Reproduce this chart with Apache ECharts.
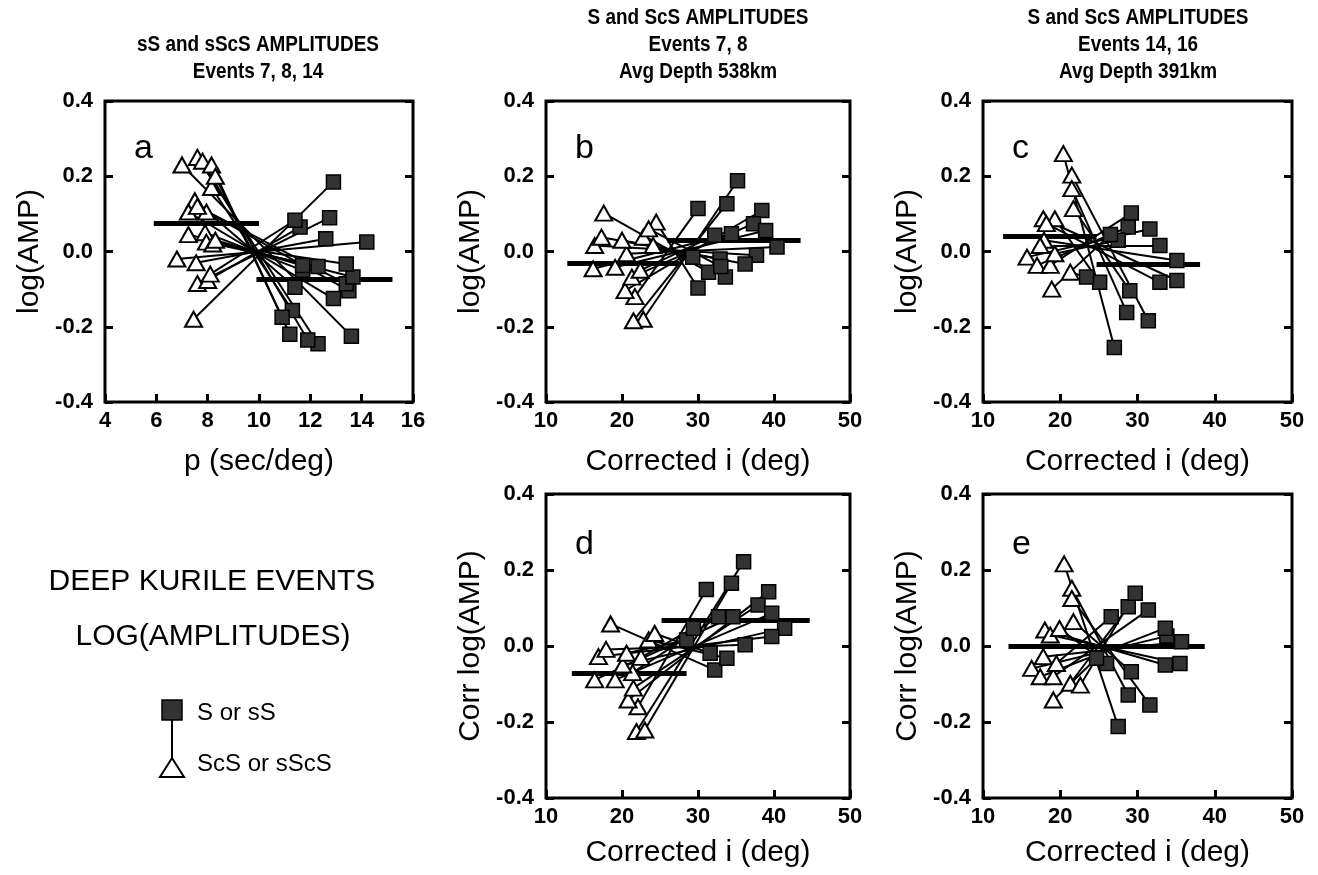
<!DOCTYPE html>
<html>
<head>
<meta charset="utf-8">
<script src="https://cdn.jsdelivr.net/npm/echarts@6/dist/echarts.min.js"></script>
<style>
	html,body{margin:0;padding:0;background:#fff;}
	#main{width:1318px;height:875px;}
</style>
</head>
<body>
<div id="main"></div>
<script type="text/javascript">
	//每组: ScS三角 [x,y] 与 S方块 [x,y] 按序号成对
	var aTri = [[7.0,0.23],[7.6,0.25],[7.8,0.24],[8.15,0.23],[8.15,0.17],[8.3,0.2],[7.5,0.135],[7.25,0.105],[7.95,0.105],[7.6,0.12],[7.25,0.045],[7.9,0.05],[7.95,0.025],[8.2,0.02],[6.8,-0.02],[7.55,-0.03],[7.6,-0.085],[8.0,-0.077],[7.45,-0.18],[8.1,-0.06],[8.3,0.03]];
	var aSq  = [[13.6,-0.225],[12.3,-0.245],[11.9,-0.235],[11.2,-0.22],[11.3,-0.157],[10.9,-0.175],[11.4,-0.095],[12.9,-0.125],[13.5,-0.104],[13.4,-0.086],[13.66,-0.068],[11.7,-0.05],[12.3,-0.04],[13.4,-0.033],[14.2,0.025],[12.6,0.034],[12.75,0.09],[11.6,0.065],[12.9,0.185],[11.4,0.083],[11.7,-0.037]];
	var aMean = [[5.9,10.0,0.075],[9.9,15.2,-0.073]];

	var bTri = [[22.8,-0.18],[21.5,-0.184],[21.7,-0.12],[20.4,-0.104],[21.3,-0.068],[19.1,-0.042],[22.4,-0.05],[16.2,-0.046],[20.6,-0.006],[16.4,0.016],[17.3,0.038],[20.0,0.03],[17.6,0.102],[22.8,0.038],[24.5,0.078],[24.1,0.016],[23.5,0.06]];
	var bSq  = [[35.2,0.188],[33.8,0.127],[30.0,0.114],[38.4,0.109],[37.3,0.074],[38.9,0.056],[32.2,0.043],[34.4,0.047],[40.4,0.012],[37.7,-0.01],[32.9,-0.02],[36.2,-0.033],[31.4,-0.055],[33.6,-0.068],[30.0,-0.097],[29.3,-0.015],[33.0,-0.04]];
	var bMean = [[12.8,27.5,-0.03],[26.0,43.5,0.03]];

	var cTri = [[20.4,0.26],[21.5,0.203],[21.5,0.167],[21.7,0.114],[19.3,0.087],[17.8,0.087],[18.2,0.074],[17.9,0.03],[17.4,0.016],[15.7,-0.015],[17.0,-0.037],[18.7,-0.037],[19.3,-0.006],[21.3,-0.055],[18.9,-0.1]];
	var cSq  = [[27.0,-0.255],[31.4,-0.184],[28.6,-0.162],[29.0,-0.104],[25.1,-0.082],[35.1,-0.077],[32.9,-0.082],[35.1,-0.024],[32.9,0.016],[31.6,0.06],[28.8,0.065],[29.2,0.102],[27.5,0.03],[23.4,-0.068],[26.5,0.045]];
	var cMean = [[12.6,24.7,0.04],[24.7,38.1,-0.035]];

	var dTri = [[21.9,-0.225],[23.0,-0.221],[22.1,-0.16],[20.8,-0.142],[21.5,-0.111],[19.1,-0.089],[21.4,-0.07],[16.4,-0.089],[20.1,-0.05],[16.9,-0.028],[17.9,-0.009],[20.6,-0.019],[18.5,0.058],[23.5,0.016],[24.3,0.033],[22.5,-0.03]];
	var dSq  = [[36.0,0.222],[34.4,0.165],[31.1,0.149],[39.3,0.143],[37.9,0.108],[39.7,0.086],[32.7,0.077],[34.6,0.077],[41.4,0.047],[39.7,0.025],[36.2,0.003],[28.5,0.016],[32.2,-0.063],[33.8,-0.032],[31.6,-0.019],[29.4,0.047]];
	var dMean = [[13.4,28.5,-0.072],[25.2,44.7,0.067]];

	var eTri = [[20.5,0.216],[21.5,0.152],[21.5,0.125],[21.7,0.064],[18.0,0.042],[18.7,0.029],[19.9,0.046],[17.8,-0.028],[16.3,-0.059],[17.4,-0.081],[19.1,-0.081],[19.5,-0.046],[21.3,-0.098],[22.6,-0.103],[19.1,-0.142]];
	var eSq  = [[27.5,-0.212],[28.8,-0.129],[31.6,-0.155],[29.2,-0.068],[33.6,-0.05],[35.5,-0.046],[26.0,-0.046],[35.7,0.011],[33.8,0.026],[33.6,0.047],[31.4,0.095],[26.6,0.077],[28.8,0.103],[29.7,0.139],[24.7,-0.032]];
	var eMean = [[13.3,38.7,0.0]];

	var pTicks = [4,16,2];//p轴
	var iTicks = [10,50,10];//入射角轴
	var ampTicks = [-0.4,0.4,0.2];

	var panels = [
		{tri:aTri,sq:aSq,mean:aMean,ax:pTicks,xname:'p (sec/deg)',yname:'log(AMP)',letter:'a',grid:{left:105,top:101,width:308,height:301}},
		{tri:bTri,sq:bSq,mean:bMean,ax:iTicks,xname:'Corrected i (deg)',yname:'log(AMP)',letter:'b',grid:{left:546,top:101,width:304,height:301}},
		{tri:cTri,sq:cSq,mean:cMean,ax:iTicks,xname:'Corrected i (deg)',yname:'log(AMP)',letter:'c',grid:{left:983,top:101,width:309,height:301}},
		{tri:dTri,sq:dSq,mean:dMean,ax:iTicks,xname:'Corrected i (deg)',yname:'Corr log(AMP)',letter:'d',grid:{left:546,top:494,width:304,height:304}},
		{tri:eTri,sq:eSq,mean:eMean,ax:iTicks,xname:'Corrected i (deg)',yname:'Corr log(AMP)',letter:'e',grid:{left:983,top:494,width:309,height:304}}
	];

	var FONT = '"Liberation Sans", Arial, Helvetica, sans-serif';

	var grids = [], xAxes = [], yLeft = [], yRight = [], series = [], graphic = [];

	var tickStyle = {show:true,inside:true,length:8,lineStyle:{color:'#000',width:3}};
	var sqDecal = {symbol:'rect',symbolSize:0.5,color:'rgba(210,210,210,0.8)',dashArrayX:[[1,2],[0,1,2,0]],dashArrayY:[1,1],rotation:0};

	panels.forEach(function(el,index){
		var top = index<3;
		grids.push({left:el.grid.left,top:el.grid.top,width:el.grid.width,height:el.grid.height,show:true,borderColor:'#000',borderWidth:3,containLabel:false});
		xAxes.push({
			gridIndex:index,type:'value',min:el.ax[0],max:el.ax[1],interval:el.ax[2],
			axisLine:{show:false,onZero:false},axisTick:tickStyle,splitLine:{show:false},
			axisLabel:{color:'#000',fontSize:22,fontWeight:'bold',fontFamily:FONT,margin:8},
			name:el.xname,nameLocation:'middle',nameGap:top?45:40,
			nameTextStyle:{color:'#000',fontSize:30,fontFamily:FONT}
		});
		yLeft.push({
			gridIndex:index,type:'value',min:ampTicks[0],max:ampTicks[1],interval:ampTicks[2],
			axisLine:{show:false,onZero:false},axisTick:tickStyle,splitLine:{show:false},
			axisLabel:{color:'#000',fontSize:22,fontWeight:'bold',fontFamily:FONT,margin:12,formatter:function(v){return v.toFixed(1);}},
			name:el.yname,nameLocation:'middle',nameGap:60,nameRotate:90,
			nameTextStyle:{color:'#000',fontSize:30,fontFamily:FONT}
		});
		yRight.push({
			gridIndex:index,type:'value',position:'right',min:ampTicks[0],max:ampTicks[1],interval:ampTicks[2],
			axisLine:{show:false,onZero:false},axisTick:tickStyle,splitLine:{show:false},axisLabel:{show:false}
		});

		//连线
		var pairs = el.tri.map(function(t,k){ return {coords:[t,el.sq[k]]}; });
		series.push({type:'lines',coordinateSystem:'cartesian2d',xAxisIndex:index,yAxisIndex:index,
			data:pairs,lineStyle:{color:'#000',width:2,opacity:1},silent:true,z:2});
		//平均线
		var means = el.mean.map(function(m){ return {coords:[[m[0],m[2]],[m[1],m[2]]]}; });
		series.push({type:'lines',coordinateSystem:'cartesian2d',xAxisIndex:index,yAxisIndex:index,
			data:means,lineStyle:{color:'#000',width:5,opacity:1},silent:true,z:2});
		series.push({type:'scatter',xAxisIndex:index,yAxisIndex:index,data:el.tri,symbol:'triangle',symbolSize:[17,15],
			itemStyle:{color:'#fff',borderColor:'#000',borderWidth:2,opacity:1},silent:true,z:3});
		series.push({type:'scatter',xAxisIndex:index,yAxisIndex:index,data:el.sq,symbol:'rect',symbolSize:14,
			itemStyle:{color:'#333',borderColor:'#000',borderWidth:1.5,opacity:1,decal:sqDecal},silent:true,z:4});

		graphic.push({type:'text',x:el.grid.left+29,y:el.grid.top+(top?65:68),
			style:{text:el.letter,fill:'#000',font:'34px '+FONT,textVerticalAlign:'bottom'}});
	});

	//标题
	var heads = [
		{x:258,lines:['','sS and sScS AMPLITUDES','Events 7, 8, 14']},
		{x:698,lines:['S and ScS AMPLITUDES','Events 7, 8','Avg Depth 538km']},
		{x:1138,lines:['S and ScS AMPLITUDES','Events 14, 16','Avg Depth 391km']}
	];
	heads.forEach(function(h){
		h.lines.forEach(function(t,k){
			if(!t)return;
			graphic.push({type:'text',x:h.x,y:18+k*27,scaleX:0.86,style:{text:t,fill:'#000',font:'bold 22px '+FONT,textAlign:'center',textVerticalAlign:'middle'}});
		});
	});

	//左下说明与图例
	graphic.push({type:'text',x:212,y:582,style:{text:'DEEP KURILE EVENTS',fill:'#000',font:'30px '+FONT,textAlign:'center',textVerticalAlign:'middle'}});
	graphic.push({type:'text',x:213,y:637,style:{text:'LOG(AMPLITUDES)',fill:'#000',font:'30px '+FONT,textAlign:'center',textVerticalAlign:'middle'}});
	graphic.push({type:'line',shape:{x1:172,y1:718,x2:172,y2:760},style:{stroke:'#000',lineWidth:2}});
	graphic.push({type:'rect',shape:{x:162,y:700,width:20,height:20},style:{fill:'#333',stroke:'#000',lineWidth:1.5}});
	graphic.push({type:'polygon',shape:{points:[[172,758],[160,777],[184,777]]},style:{fill:'#fff',stroke:'#000',lineWidth:2}});
	graphic.push({type:'text',x:197,y:713,style:{text:'S or sS',fill:'#000',font:'24px '+FONT,textVerticalAlign:'middle'}});
	graphic.push({type:'text',x:197,y:764,style:{text:'ScS or sScS',fill:'#000',font:'24px '+FONT,textVerticalAlign:'middle'}});

	var myChart = echarts.init(document.getElementById('main'),null,{renderer:'canvas'});
	var option = {
		backgroundColor:'#fff',
		animation:false,
		grid:grids,
		xAxis:xAxes,
		yAxis:yLeft.concat(yRight),
		series:series,
		graphic:graphic
	};
	myChart.setOption(option);
</script>
</body>
</html>
